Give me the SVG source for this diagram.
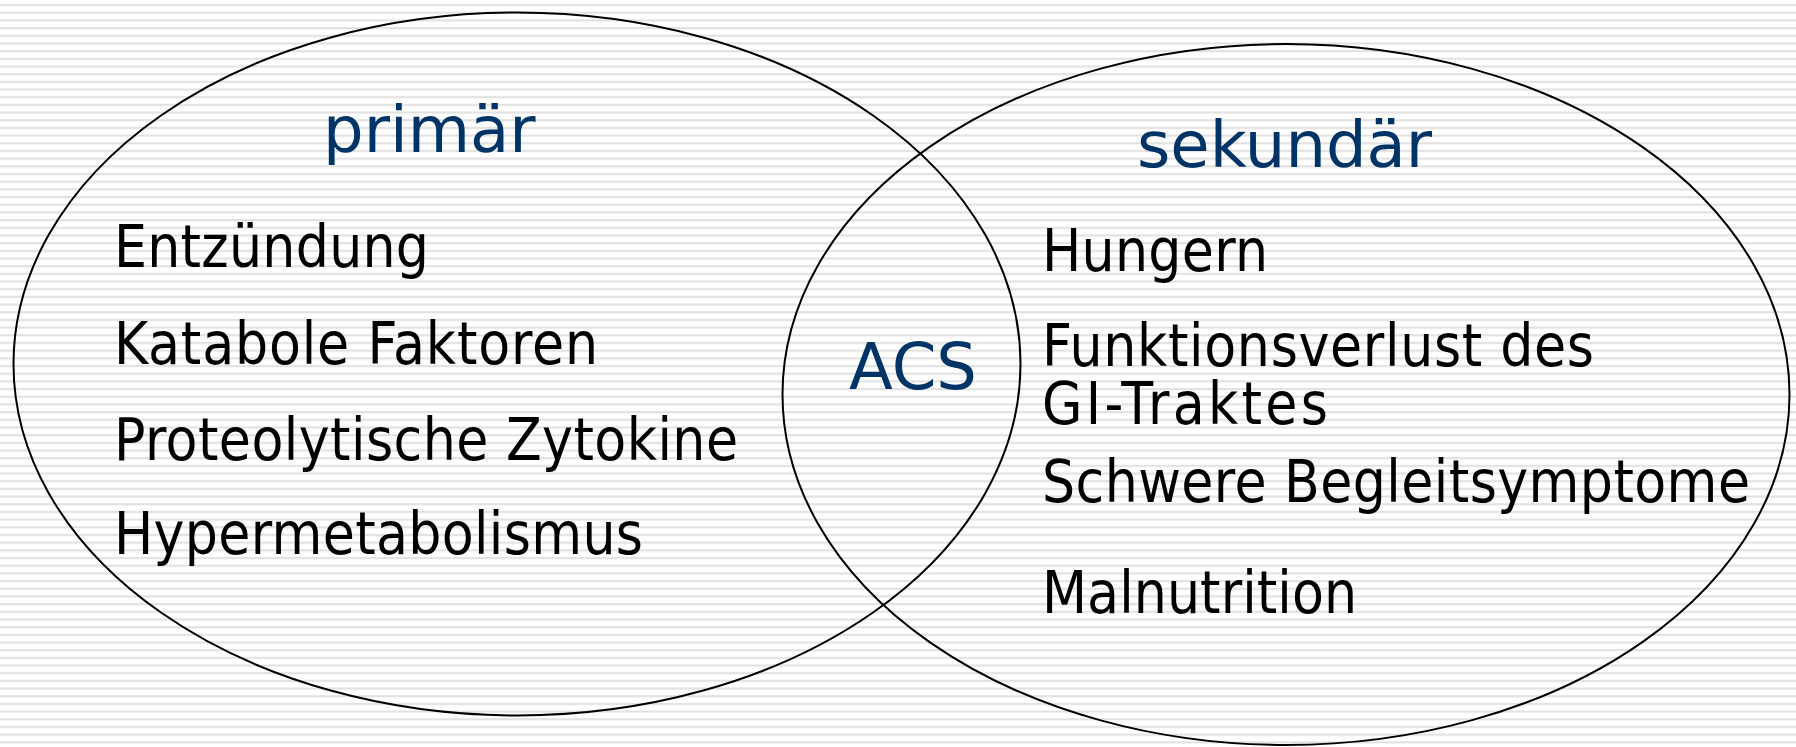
<svg xmlns="http://www.w3.org/2000/svg" width="1796" height="747" viewBox="0 0 1796 747">
  <defs>
    <pattern id="stripes" x="0" y="4" width="20" height="7.68" patternUnits="userSpaceOnUse">
      <rect x="0" y="0" width="20" height="2.2" fill="#e2e2e2"/>
    </pattern>
    <style>
      .ring { fill: none; stroke: #000; stroke-width: 2; }
      .head { font-family: "DejaVu Sans", Verdana, sans-serif; font-size: 64px; fill: #003366; }
      .item { font-family: "DejaVu Sans Condensed", "DejaVu Sans", sans-serif; font-size: 58px; fill: #000; }
    </style>
  </defs>
  <rect width="1796" height="747" fill="#fff"/>
  <rect width="1796" height="747" fill="url(#stripes)"/>
  <g id="connectors"></g>
  <g id="primary">
    <ellipse class="ring" cx="517" cy="364" rx="503.5" ry="351.5"/>
    <text class="head" x="323" y="152">primär</text>
    <text class="item" x="114" y="267" textLength="315">Entzündung</text>
    <text class="item" x="114" y="364" textLength="484">Katabole Faktoren</text>
    <text class="item" x="114" y="460" textLength="624">Proteolytische Zytokine</text>
    <text class="item" x="114" y="554" textLength="529">Hypermetabolismus</text>
  </g>
  <g id="secondary">
    <ellipse class="ring" cx="1286" cy="394.5" rx="503.5" ry="350.5"/>
    <text class="head" x="1137" y="167">sekundär</text>
    <text class="item" x="1042" y="271" textLength="226">Hungern</text>
    <text class="item" x="1042" y="366" textLength="552">Funktionsverlust des</text>
    <text class="item" x="1042" y="424" textLength="286">GI-Traktes</text>
    <text class="item" x="1042" y="502" textLength="708">Schwere Begleitsymptome</text>
    <text class="item" x="1042" y="613" textLength="315">Malnutrition</text>
  </g>
  <g id="overlap">
    <text class="head" x="849" y="389">ACS</text>
  </g>
</svg>
